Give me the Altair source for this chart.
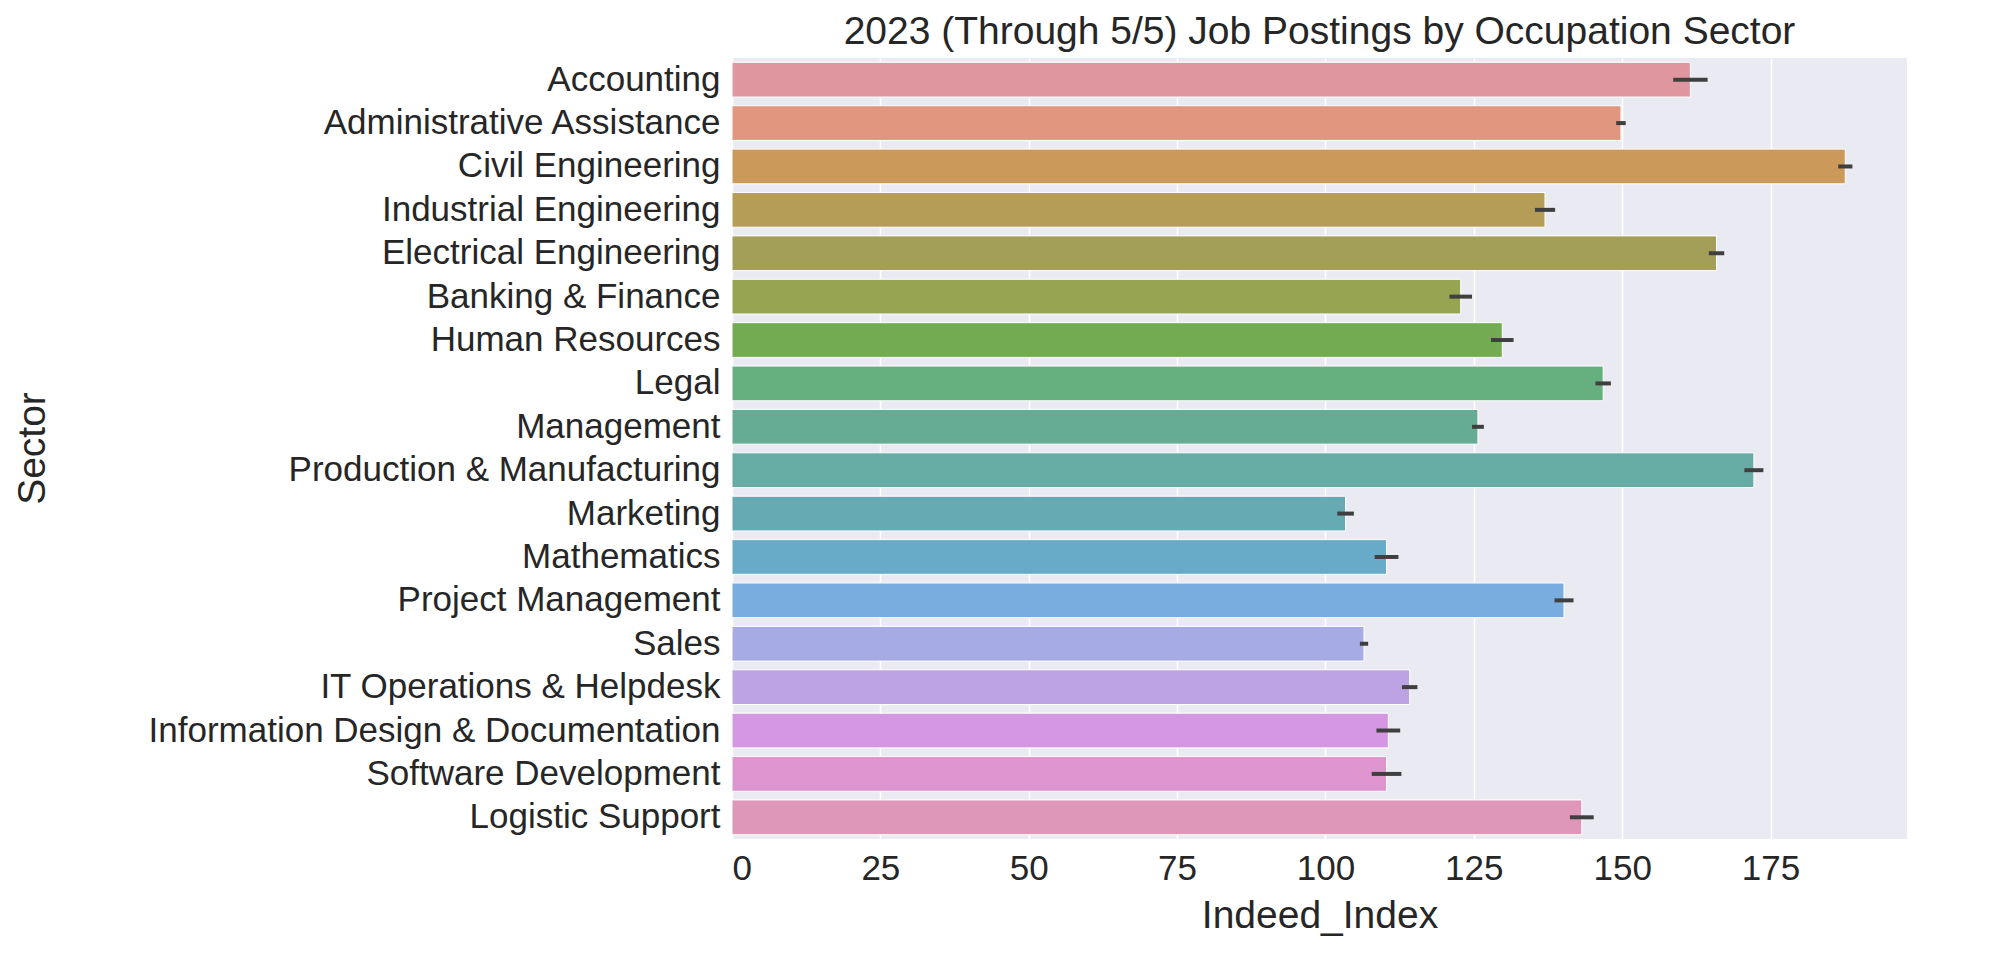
import altair as alt
import pandas as pd

sectors = ["Accounting", "Administrative Assistance", "Civil Engineering", "Industrial Engineering",
           "Electrical Engineering", "Banking & Finance", "Human Resources", "Legal", "Management",
           "Production & Manufacturing", "Marketing", "Mathematics", "Project Management", "Sales",
           "IT Operations & Helpdesk", "Information Design & Documentation", "Software Development",
           "Logistic Support"]
values = [161.5, 149.8, 187.6, 137.0, 165.9, 122.8, 129.8, 146.8, 125.7,
          172.2, 103.4, 110.3, 140.2, 106.5, 114.2, 110.6, 110.3, 143.2]
errors = [2.9, 0.8, 1.2, 1.7, 1.3, 1.9, 1.9, 1.3, 1.0,
          1.6, 1.4, 2.0, 1.6, 0.7, 1.3, 2.0, 2.5, 2.0]
colors = ["#e0969f", "#e0967f", "#cb9a5a", "#b59d58", "#a39f58", "#97a553", "#73ab52", "#66b07f",
          "#66ac95", "#66aba4", "#66abb3", "#67abc8", "#7aaddf", "#a6abe5", "#bea3e4", "#d596e3",
          "#de94cf", "#df97b8"]

df = pd.DataFrame({"Sector": sectors, "Indeed_Index": values})
df["lo"] = df["Indeed_Index"] - pd.Series(errors)
df["hi"] = df["Indeed_Index"] + pd.Series(errors)

y = alt.Y("Sector:N", sort=sectors, title="Sector",
          scale=alt.Scale(paddingInner=0.2, paddingOuter=0.1),
          axis=alt.Axis(grid=False, titleX=-700, titleY=390, titleAngle=-90,
                        titleBaseline="middle", titleAlign="center"))

bars = alt.Chart(df).mark_bar(stroke="white", strokeWidth=1).encode(
    x=alt.X("Indeed_Index:Q", title="Indeed_Index",
            scale=alt.Scale(domain=[0, 198], nice=False),
            axis=alt.Axis(values=[0, 25, 50, 75, 100, 125, 150, 175])),
    y=y,
    color=alt.Color("Sector:N", scale=alt.Scale(domain=sectors, range=colors), legend=None),
)

err = alt.Chart(df).mark_rule(color="#3f3f3f", strokeWidth=4).encode(
    x="lo:Q", x2="hi:Q", y=y,
)

chart = alt.layer(bars, err).properties(
    width=1175, height=781,
    title=alt.Title("2023 (Through 5/5) Job Postings by Occupation Sector", fontSize=39,
                    fontWeight="normal", color="#262626", offset=6),
).configure(font="Liberation Sans").configure_view(
    fill="#eaeaf2", stroke=None
).configure_axis(
    labelFontSize=35, titleFontSize=39, titleFontWeight="normal", labelColor="#262626",
    titleColor="#262626", gridColor="white", gridWidth=1.5, domain=False, ticks=False,
    labelPadding=12, titlePadding=10, labelLimit=900,
)

chart.save("out.html", embed_options={"renderer": "svg", "actions": False})
